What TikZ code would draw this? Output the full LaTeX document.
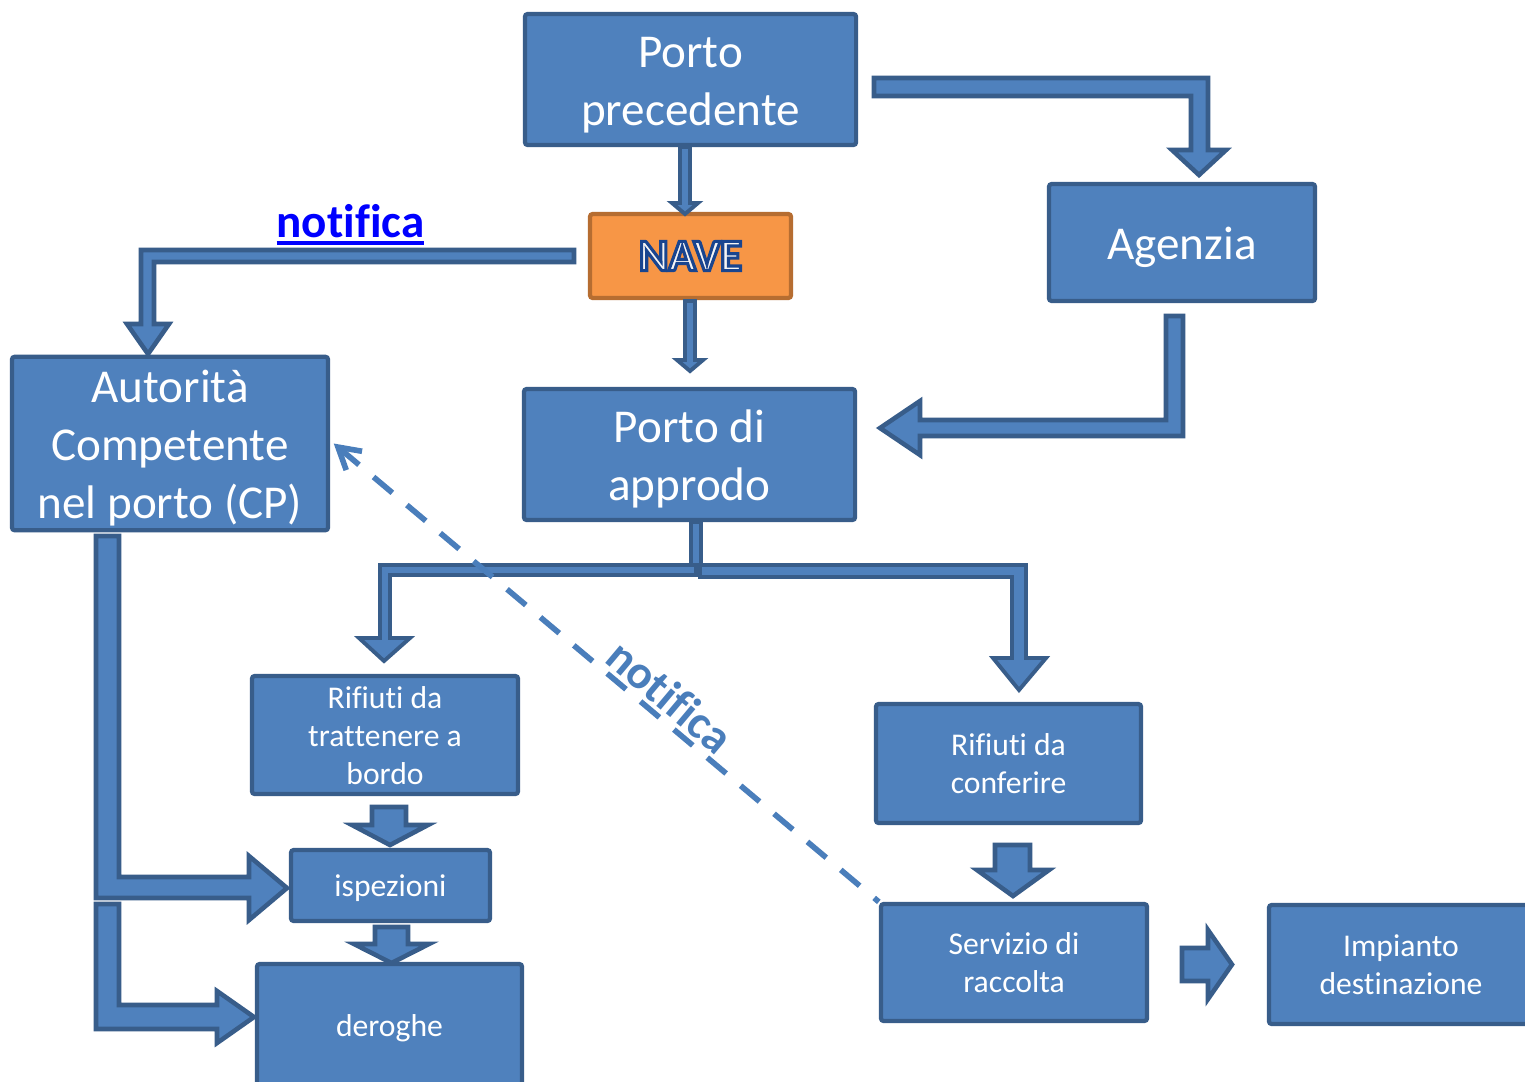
\documentclass[tikz,border=0pt]{standalone}
\usepackage{fontspec}
\setmainfont{Carlito}[Ligatures={TeX,CommonOff}]
\newfontfamily\navefont[FakeBold=7]{Carlito}
\usetikzlibrary{arrows.meta}
\definecolor{bfill}{HTML}{4F81BD}
\definecolor{bline}{HTML}{385D8A}
\definecolor{ofill}{HTML}{F79646}
\definecolor{oline}{HTML}{B66D31}
\definecolor{lnkblue}{HTML}{4A7EBB}
\newcommand\bigf{\fontsize{13.4}{16.5}\selectfont}
\newcommand\smf{\fontsize{9}{10.8}\selectfont}
\newcommand\myul[1]{\setbox0\hbox{#1}\rlap{\rule[-2.2pt]{\wd0}{1.2pt}}\box0}
\newcommand\tstr{\rule{0pt}{0.97em}}
\newcommand\bstr{\rule[-0.25em]{0pt}{0.25em}}
\newcommand\bx[1]{\tstr #1\bstr}
\newcommand\nolig{\kern0pt }
\tikzset{
  box/.style={draw=bline, fill=bfill, line width=1.2pt, text=white, align=center, inner sep=0pt, rounded corners=0.8pt},
  bigbox/.style={box, font=\bigf},
  smbox/.style={box, font=\smf},
  blk/.style={draw=bline, fill=bfill, line width=1.3pt, line join=miter},
  thinblk/.style={draw=bline, fill=bfill, line width=1.1pt, line join=miter},
}
\begin{document}
\begin{tikzpicture}[x=0.01cm,y=-0.01cm]
\useasboundingbox (0,0) rectangle (1525,1081);
\fill[white] (0,0) rectangle (1525,1081);

% boxes
\node[bigbox, minimum width=3.31cm, minimum height=1.31cm] (pp) at (690.5,79.5) {\bx{Porto\\precedente}};
\node[bigbox, minimum width=2.66cm, minimum height=1.17cm] (ag) at (1182,242.5) {\bx{Agenzia}};
\node[bigbox, minimum width=3.31cm, minimum height=1.31cm] (pa) at (689.5,454.5) {\bx{Porto di\\approdo}};
\node[bigbox, minimum width=3.16cm, minimum height=1.63cm] (au) at (170,443.5) {\bx{Autorità\\Competente\\nel porto (CP)}};
\node[smbox, minimum width=2.66cm, minimum height=1.18cm] (rt) at (385,735) {\bx{Rifiuti da\\trat\nolig tenere a\\bordo}};
\node[smbox, minimum width=1.99cm, minimum height=0.71cm] (isp) at (390.5,885.5) {\bx{ispezioni}};
\node[smbox, minimum width=2.65cm, minimum height=1.22cm] (der) at (389.5,1025) {\bx{deroghe}};
\node[smbox, minimum width=2.65cm, minimum height=1.19cm] (rc) at (1008.5,763.5) {\bx{Rifiuti da\\conferire}};
\node[smbox, minimum width=2.66cm, minimum height=1.17cm] (sr) at (1014,962.5) {\bx{Servizio di\\raccolta}};
\node[smbox, minimum width=2.64cm, minimum height=1.19cm] (imp) at (1401,964.5) {\bx{Impianto\\destinazione}};
\node[draw=oline, fill=ofill, line width=1.2pt, minimum width=2.01cm, minimum height=0.84cm, inner sep=0pt, rounded corners=0.8pt,
      font=\navefont\fontsize{12.8}{15}\selectfont\bfseries] (nave) at (690.5,256)
      {\special{pdf:bcolor [0.96 0.96 0.96] [0.1 0.27 0.56]}NAVE\special{pdf:ecolor}};

% block arrows
\draw[blk] (874,78) -- (1208,78) -- (1208,150) -- (1226,150) -- (1199,175) -- (1172,150) -- (1191,150) -- (1191,96) -- (874,96) -- cycle;
\draw[thinblk] (680,147) -- (690,147) -- (690,203) -- (698,203) -- (685,214) -- (672,203) -- (680,203) -- cycle;
\draw[thinblk] (685,301) -- (695,301) -- (695,360) -- (703,360) -- (690,371) -- (677,360) -- (685,360) -- cycle;
\draw[blk] (1166,316) -- (1183,316) -- (1183,436) -- (920,436) -- (920,455) -- (880,428) -- (920,401) -- (920,420) -- (1166,420) -- cycle;
\draw[blk] (574,250) -- (141,250) -- (141,324) -- (127,324) -- (148,354) -- (169,324) -- (154,324) -- (154,262) -- (574,262) -- cycle;
\draw[thinblk] (691,522) -- (701,522) -- (701,574) -- (691,574) -- cycle;
\draw[thinblk] (696,565) -- (380,565) -- (380,638) -- (359,638) -- (384,661) -- (410,638) -- (390,638) -- (390,575) -- (696,575) -- cycle;
\draw[thinblk] (700,565) -- (1026,565) -- (1026,658) -- (1046,658) -- (1019,690) -- (993,658) -- (1012,658) -- (1012,577) -- (700,577) -- cycle;
\draw[blk] (372,807) -- (406,807) -- (406,825) -- (428,825) -- (390,845) -- (352,825) -- (372,825) -- cycle;
\draw[blk] (375,927) -- (408,927) -- (408,944) -- (429,944) -- (391.5,963) -- (354,944) -- (375,944) -- cycle;
\draw[blk] (995,845) -- (1030,845) -- (1030,870) -- (1049,870) -- (1013,896) -- (977,870) -- (995,870) -- cycle;
\draw[blk] (1182,948) -- (1208,948) -- (1208,930) -- (1232,964.5) -- (1208,999) -- (1208,981) -- (1182,981) -- cycle;
\draw[blk] (96,536) -- (119,536) -- (119,877) -- (249,877) -- (249,856) -- (287,888) -- (249,920) -- (249,898) -- (96,898) -- cycle;
\draw[blk] (96,904) -- (119,904) -- (119,1005) -- (217,1005) -- (217,991) -- (254,1017) -- (217,1043) -- (217,1029) -- (96,1029) -- cycle;

% labels
\node[anchor=base, font=\bigf\bfseries, text=blue, inner sep=0pt] (nlab1) at (350.5,237) {\myul{notif\nolig ica}};
\draw[lnkblue, line width=1.6pt, dash pattern=on 7pt off 5.4pt, {Straight Barb[length=6pt,width=7pt]}-]
  ([xshift=1pt]au.east) -- (sr.north west)
  node[pos=0.59, sloped, above, inner sep=1pt, font=\bigf\bfseries, text=lnkblue] (nlab2) {notif\nolig ica};
\end{tikzpicture}
\end{document}
